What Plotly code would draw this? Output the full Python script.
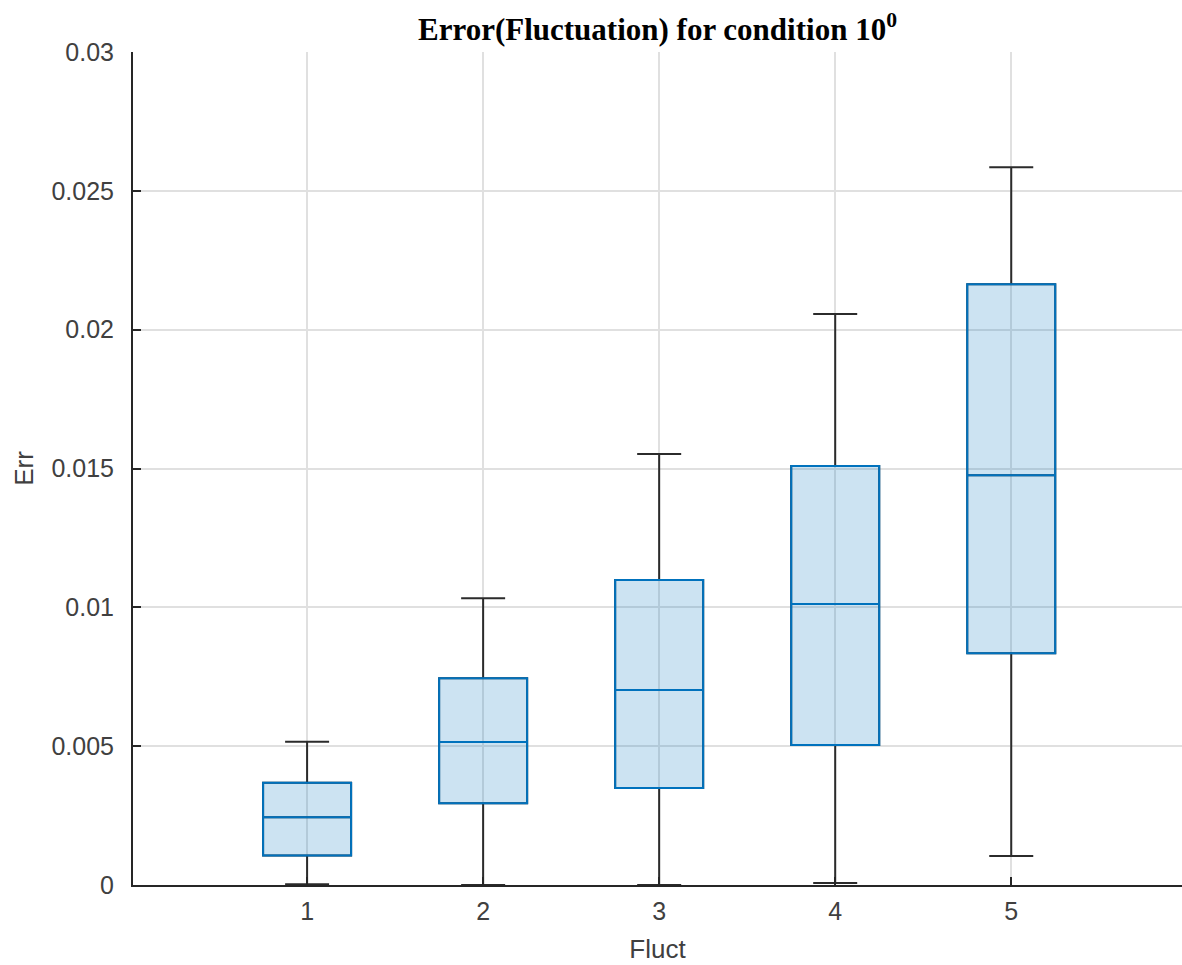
import plotly.graph_objects as go

groups = [1, 2, 3, 4, 5]
lower_whisker = [0.00003, 0.00000, 0.00000, 0.00007, 0.00104]
q1 = [0.00106, 0.00294, 0.00349, 0.00504, 0.00835]
median = [0.00244, 0.00515, 0.00702, 0.01012, 0.01476]
q3 = [0.00368, 0.00745, 0.01098, 0.01509, 0.02164]
upper_whisker = [0.00516, 0.01033, 0.01552, 0.02056, 0.02585]

ytick_vals = [0, 0.005, 0.01, 0.015, 0.02, 0.025, 0.03]
ytick_text = ["0", "0.005", "0.01", "0.015", "0.02", "0.025", "0.03"]

fig = go.Figure()

# whiskers (dark)
fig.add_trace(go.Box(
    x=groups, q1=q1, median=median, q3=q3,
    lowerfence=lower_whisker, upperfence=upper_whisker,
    width=0.5, whiskerwidth=0.5,
    line=dict(color="#2b2b2b", width=2),
    fillcolor="rgba(0,0,0,0)",
    boxpoints=False, showlegend=False, hoverinfo="skip",
))
# boxes (blue)
fig.add_trace(go.Box(
    x=groups, q1=q1, median=median, q3=q3,
    lowerfence=q1, upperfence=q3,
    width=0.5, whiskerwidth=0.0,
    line=dict(color="#0072BD", width=2),
    fillcolor="rgba(0,114,189,0.2)",
    boxpoints=False, showlegend=False,
))

fig.update_layout(
    width=1182, height=965,
    margin=dict(l=133, r=0, t=52, b=80),
    paper_bgcolor="white", plot_bgcolor="white",
    boxmode="overlay",
    font=dict(family="Liberation Sans, Arial, sans-serif", size=25, color="#404040"),
    title=dict(
        text="Error(Fluctuation) for condition 10<sup>0</sup>",
        font=dict(family="Liberation Serif, Times New Roman, serif", size=31, color="#000000", weight="bold"),
        x=0.5, xanchor="center", xref="paper",
        y=1 - 29 / 965, yanchor="middle", yref="container",
    ),
    xaxis=dict(
        range=[0.011, 5.97],
        tickvals=groups, ticktext=[str(g) for g in groups],
        tickfont=dict(size=25, color="#404040"),
        showgrid=True, gridcolor="#e0e0e0", gridwidth=1.5,
        showline=True, linecolor="#262626", linewidth=2,
        ticks="inside", ticklen=8, tickcolor="#262626", tickwidth=2,
        ticklabelstandoff=3,
        zeroline=False,
        title=dict(text="Fluct", font=dict(size=26, color="#404040"), standoff=16),
    ),
    yaxis=dict(
        range=[0, 0.03],
        tickvals=ytick_vals, ticktext=ytick_text,
        tickfont=dict(size=25, color="#404040"),
        showgrid=True, gridcolor="#e0e0e0", gridwidth=1.5,
        showline=True, linecolor="#262626", linewidth=2,
        ticks="inside", ticklen=8, tickcolor="#262626", tickwidth=2,
        ticklabelstandoff=12,
        zeroline=False,
        title=dict(text="Err", font=dict(size=26, color="#404040"), standoff=10),
    ),
)

fig.write_html(
    "out.html",
    config={"displayModeBar": False},
    post_script=(
        "document.body.style.margin='0px';"
        "document.body.style.overflow='hidden';"
        "document.documentElement.style.overflow='hidden';"
    ),
)
